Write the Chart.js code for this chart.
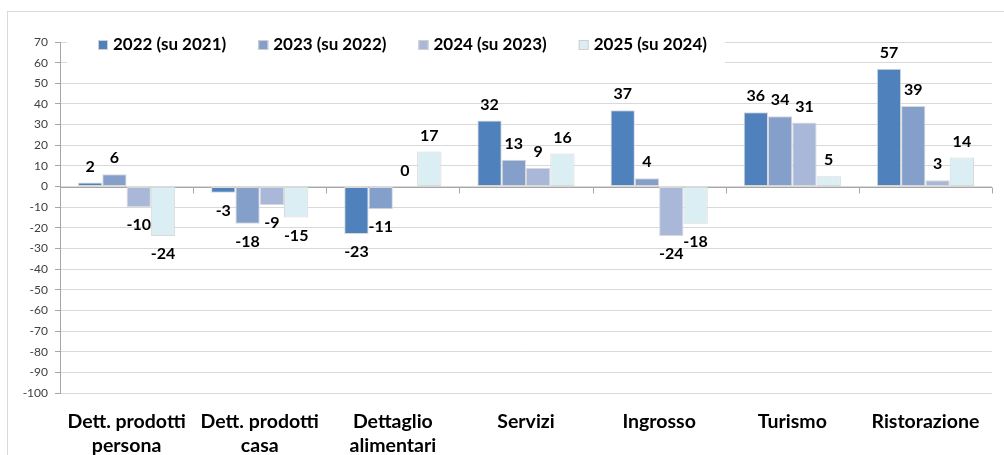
<!DOCTYPE html>
<html lang="it">
<head>
<meta charset="utf-8">
<title>Saldi per settore</title>
<script src="https://cdn.jsdelivr.net/npm/chart.js@4.4.1/dist/chart.umd.min.js"></script>
<style>
  html, body { margin: 0; padding: 0; background: #fff; }
  #wrap { position: relative; width: 1004px; height: 455px; overflow: hidden; }
  #frame { position: absolute; left: 7px; top: 11px; width: 1100px; height: 600px; border: 1px solid #d9d9d9; }
  #chart { position: absolute; left: 0; top: 0; }
</style>
</head>
<body>
<div id="wrap">
  <div id="frame"></div>
  <canvas id="chart" width="1004" height="455"></canvas>
</div>
<script>
// Categories (settori)
const categories = [
  ['Dett. prodotti', 'persona'],
  ['Dett. prodotti', 'casa'],
  ['Dettaglio', 'alimentari'],
  'Servizi',
  'Ingrosso',
  'Turismo',
  'Ristorazione'
];

// Series
const seriesLabels = ['2022 (su 2021)', '2023 (su 2022)', '2024 (su 2023)', '2025 (su 2024)'];
const values2022 = [2, -3, -23, 32, 37, 36, 57];
const values2023 = [6, -18, -11, 13, 4, 34, 39];
const values2024 = [-10, -9, 0, 9, -24, 31, 3];
const values2025 = [-24, -15, 17, 16, -18, 5, 14];
const seriesColors = ['#4f81bd', '#859fcb', '#a9b8d8', '#dbeef4'];

// Y axis range
const yMin = -100;
const yMax = 70;
const yStep = 10;

const FONT = 'Lato, "Open Sans", sans-serif';

/**
 * Value labels above / below each bar
 */
const valueLabels = {
  id: 'valueLabels',
  afterDatasetsDraw(chart) {
    const ctx = chart.ctx;
    ctx.save();
    ctx.font = 'bold 16px ' + FONT;
    ctx.fillStyle = '#000';
    ctx.textAlign = 'center';
    ctx.textBaseline = 'middle';
    chart.data.datasets.forEach((ds, i) => {
      chart.getDatasetMeta(i).data.forEach((bar, j) => {
        const v = ds.data[j];
        const y = v >= 0 ? bar.y - 16 : bar.y + 18;
        ctx.fillText(String(v), bar.x, y);
      });
    });
    ctx.restore();
  }
};

/**
 * Category axis drawn across zero, with tick marks between categories
 */
const zeroAxis = {
  id: 'zeroAxis',
  beforeDatasetsDraw(chart) {
    const { ctx, chartArea } = chart;
    const y0 = Math.round(chart.scales.y.getPixelForValue(0)) + 0.5;
    const step = (chartArea.right - chartArea.left) / categories.length;
    ctx.save();
    ctx.strokeStyle = '#a6a6a6';
    ctx.lineWidth = 1;
    ctx.beginPath();
    ctx.moveTo(chartArea.left, y0);
    ctx.lineTo(chartArea.right, y0);
    for (let i = 0; i <= categories.length; i++) {
      const x = Math.round(chartArea.left + i * step) + 0.5;
      ctx.moveTo(x, y0);
      ctx.lineTo(x, y0 + 6);
    }
    ctx.stroke();
    ctx.restore();
  }
};

/**
 * Legend drawn on a white panel over the top of the plot
 */
const topLegend = {
  id: 'topLegend',
  afterDraw(chart) {
    const ctx = chart.ctx;
    ctx.save();
    ctx.fillStyle = '#fff';
    ctx.fillRect(67, 32, 658, 40);
    ctx.font = 'bold 17px ' + FONT;
    ctx.textBaseline = 'middle';
    ctx.textAlign = 'left';
    let x = 98;
    const y = 45;
    seriesLabels.forEach((label, i) => {
      ctx.fillStyle = seriesColors[i];
      ctx.fillRect(x, y - 5, 10, 10);
      ctx.strokeStyle = '#d0d0d0';
      ctx.strokeRect(x + 0.5, y - 4.5, 9, 9);
      ctx.fillStyle = '#000';
      ctx.fillText(label, x + 15, y);
      x += 15 + ctx.measureText(label).width + 32;
    });
    ctx.restore();
  }
};

const chartView = {
  chart: null,

  init() {
    const ctx = document.getElementById('chart').getContext('2d');
    const seriesValues = [values2022, values2023, values2024, values2025];

    this.chart = new Chart(ctx, {
      type: 'bar',
      data: {
        labels: categories,
        datasets: seriesLabels.map((label, i) => ({
          label,
          data: seriesValues[i],
          backgroundColor: seriesColors[i],
          borderColor: '#d9d9d9',
          borderWidth: 1,
          borderSkipped: false,
          barPercentage: 1,
          categoryPercentage: 0.73
        }))
      },
      options: {
        responsive: false,
        animation: false,
        devicePixelRatio: 1,
        layout: {
          padding: { top: 42, right: 12, left: 0, bottom: 0 }
        },
        plugins: {
          legend: { display: false },
          tooltip: { enabled: false }
        },
        scales: {
          x: {
            grid: { display: false },
            border: { display: false },
            ticks: {
              color: '#000',
              font: { family: FONT, size: 19.5, weight: 'bold', lineHeight: 1.23 },
              padding: 9,
              maxRotation: 0,
              autoSkip: false
            },
            afterFit(scale) { scale.height = 62; }
          },
          y: {
            min: yMin,
            max: yMax,
            ticks: {
              stepSize: yStep,
              color: '#404040',
              font: { family: FONT, size: 12 },
              padding: 7
            },
            grid: {
              color: '#d9d9d9',
              tickColor: '#a6a6a6',
              tickLength: 5
            },
            border: { color: '#a6a6a6' },
            afterFit(scale) { scale.width = 60; }
          }
        }
      },
      plugins: [zeroAxis, valueLabels, topLegend]
    });
  }
};

chartView.init();
</script>
</body>
</html>
